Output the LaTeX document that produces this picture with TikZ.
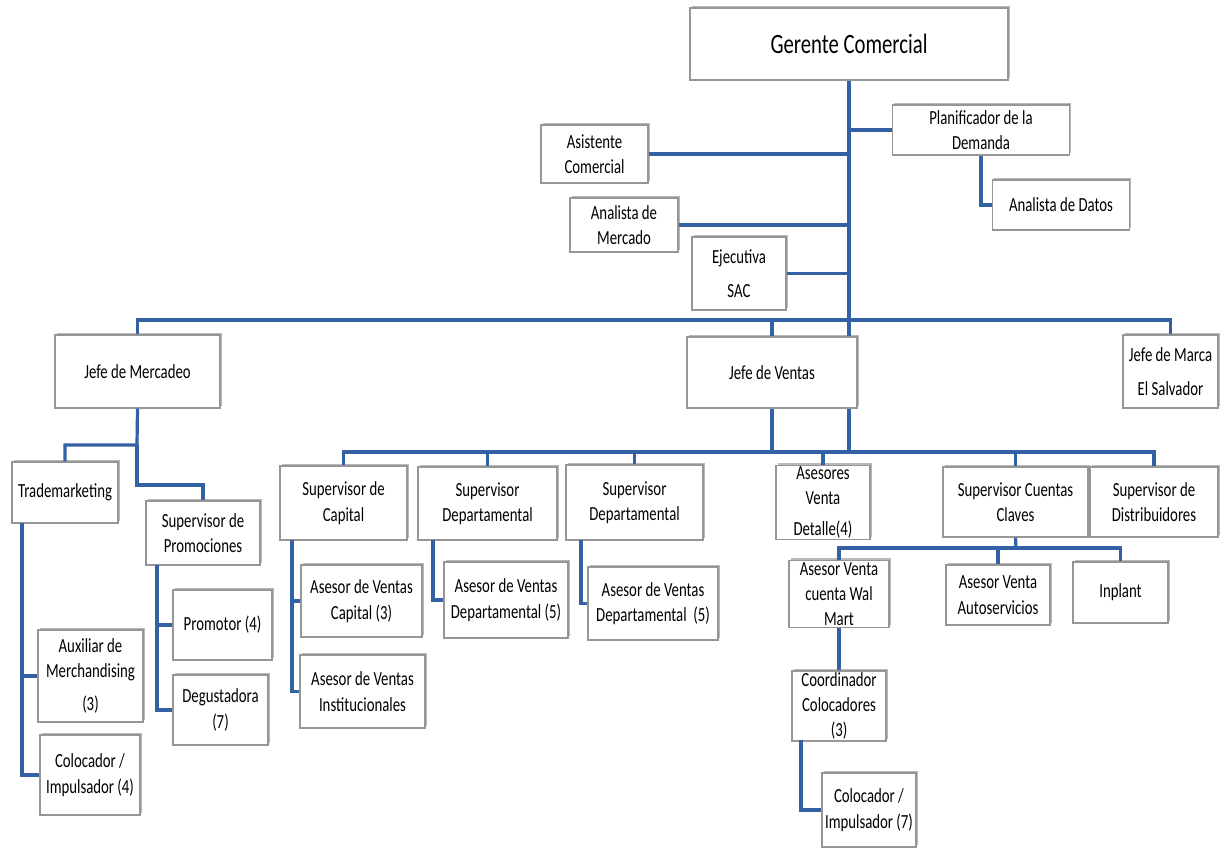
\documentclass[tikz,border=0pt]{standalone}
\usepackage{fontspec}
\setmainfont{Carlito}[FakeStretch=0.74]
\usepackage{tikz}
\usetikzlibrary{shadows}

\definecolor{linkblue}{RGB}{52,96,164}
\definecolor{boxgray}{RGB}{150,150,150}

\tikzset{
  box/.style={draw=boxgray, fill=white, line width=0.8pt, align=center, inner sep=1pt,
    font=\fontsize{15}{19}\selectfont,
    drop shadow={shadow xshift=1.2pt, shadow yshift=1.8pt, fill=black, opacity=0.28}},
  link/.style={draw=linkblue, line width=2.4pt}
}

\begin{document}
\begin{tikzpicture}[x=0.75pt,y=0.75pt,yscale=-1]
\useasboundingbox (0,0) rectangle (1224,865);

% Text Node
\node (gerente) at (849,44) [box, minimum width=318*0.75pt, minimum height=72*0.75pt, font=\fontsize{21}{25}\selectfont] {Gerente Comercial};
% Text Node
\node (planif) at (981,130) [box, minimum width=177*0.75pt, minimum height=50*0.75pt] {Planificador de la\\Demanda};
% Text Node
\node (datos) at (1061,205) [box, minimum width=137*0.75pt, minimum height=50*0.75pt] {Analista de Datos};
% Text Node
\node (asistente) at (594.5,154) [box, minimum width=107*0.75pt, minimum height=58*0.75pt] {Asistente\\Comercial};
% Text Node
\node (mercado) at (624,225) [box, minimum width=108*0.75pt, minimum height=54*0.75pt] {Analista de\\Mercado};
% Text Node
\node (sac) at (739,273.5) [box, minimum width=94*0.75pt, minimum height=73*0.75pt] {Ejecutiva\\[6pt]SAC};

% Text Node
\node (mercadeo) at (137.5,371.5) [box, minimum width=165*0.75pt, minimum height=73*0.75pt] {Jefe de Mercadeo};
% Text Node
\node (ventas) at (772,372.5) [box, minimum width=170*0.75pt, minimum height=71*0.75pt] {Jefe de Ventas};
% Text Node
\node (marca) at (1170.5,371.5) [box, minimum width=95*0.75pt, minimum height=73*0.75pt] {Jefe de Marca\\[6pt]El Salvador};

% Text Node
\node (trade) at (65,492.5) [box, minimum width=106*0.75pt, minimum height=61*0.75pt] {Trademarketing};
% Text Node
\node (suppromo) at (203,533) [box, minimum width=114*0.75pt, minimum height=64*0.75pt] {Supervisor de\\Promociones};
% Text Node
\node (auxmer) at (90.5,676) [box, minimum width=105*0.75pt, minimum height=92*0.75pt] {Auxiliar de\\Merchandising\\[6pt](3)};
% Text Node
\node (coloc4) at (90,775) [box, minimum width=100*0.75pt, minimum height=80*0.75pt] {Colocador /\\Impulsador (4)};
% Text Node
\node (promotor) at (222.5,625) [box, minimum width=99*0.75pt, minimum height=70*0.75pt] {Promotor (4)};
% Text Node
\node (degust) at (220.5,710) [box, minimum width=95*0.75pt, minimum height=70*0.75pt] {Degustadora\\(7)};

% Text Node
\node (supcap) at (343.5,503) [box, minimum width=127*0.75pt, minimum height=74*0.75pt] {Supervisor de\\Capital};
% Text Node
\node (supdepa) at (487.5,503.5) [box, minimum width=139*0.75pt, minimum height=73*0.75pt] {Supervisor\\Departamental};
% Text Node
\node (supdepb) at (634.5,502.5) [box, minimum width=137*0.75pt, minimum height=75*0.75pt] {Supervisor\\Departamental};
% Text Node
\node (detalle) at (823,502.5) [box, minimum width=94*0.75pt, minimum height=71*0.75pt] {Asesores\\Venta\\[4pt]Detalle(4)};
% Text Node
\node (cuentas) at (1015.5,502) [box, minimum width=145*0.75pt, minimum height=70*0.75pt] {Supervisor Cuentas\\Claves};
% Text Node
\node (supdist) at (1154,502) [box, minimum width=128*0.75pt, minimum height=70*0.75pt] {Supervisor de\\Distribuidores};

% Text Node
\node (ascap) at (361.5,601) [box, minimum width=121*0.75pt, minimum height=72*0.75pt] {Asesor de Ventas\\Capital (3)};
% Text Node
\node (asinst) at (362.5,691.5) [box, minimum width=125*0.75pt, minimum height=73*0.75pt] {Asesor de Ventas\\Institucionales};
% Text Node
\node (asdepa) at (506,600) [box, minimum width=124*0.75pt, minimum height=76*0.75pt] {Asesor de Ventas\\Departamental (5)};
% Text Node
\node (asdepb) at (653,603.5) [box, minimum width=130*0.75pt, minimum height=73*0.75pt] {Asesor de Ventas\\Departamental\ \ (5)};
% Text Node
\node (walmart) at (839,594) [box, minimum width=100*0.75pt, minimum height=62*0.75pt] {Asesor Venta\\cuenta Wal\\Mart};
% Text Node
\node (autos) at (998,595) [box, minimum width=104*0.75pt, minimum height=60*0.75pt] {Asesor Venta\\Autoservicios};
% Text Node
\node (inplant) at (1120.5,592.5) [box, minimum width=95*0.75pt, minimum height=61*0.75pt] {Inplant};
% Text Node
\node (coord) at (839,706) [box, minimum width=94*0.75pt, minimum height=68*0.75pt] {Coordinador\\Colocadores\\(3)};
% Text Node
\node (coloc7) at (869,810) [box, minimum width=94*0.75pt, minimum height=74*0.75pt] {Colocador /\\Impulsador (7)};

% bus points
\coordinate (mainbus) at (849,320);
\coordinate (ventbus) at (772,452);
\coordinate (mkt) at (137,445);
\coordinate (mkp) at (137,485);
\coordinate (cbus) at (1016,548);
\coordinate (tradeleg) at (22,523);
\coordinate (promoleg) at (157,565);
\coordinate (capleg) at (292,540);
\coordinate (depaleg) at (433,540);
\coordinate (depbleg) at (581,540);
\coordinate (coordleg) at (801,740);

\begin{scope}[on background layer/.style={}]
%Straight Lines
\draw [link] (gerente.south) -- (gerente.south |- ventas.north);
\draw [link] (planif.west) -- (planif.west -| gerente.south);
\draw [link] (asistente.east) -- (asistente.east -| gerente.south);
\draw [link] (mercado.east) -- (mercado.east -| gerente.south);
\draw [link] (sac.east) -- (sac.east -| gerente.south);
\draw [link] (planif.south) |- (datos.west);
%Straight Lines
\draw [link] (mercadeo.north) |- (mainbus) -| (marca.north);
\draw [link] (ventas.north) -- (ventas.north |- mainbus);
%Straight Lines
\draw [link] (mercadeo.south) -- (mkt) -| (trade.north);
\draw [link] (mkt) -- (mkp) -| (suppromo.north);
\draw [link] (tradeleg) |- (auxmer.west);
\draw [link] (tradeleg) |- (coloc4.west);
\draw [link] (promoleg) |- (promotor.west);
\draw [link] (promoleg) |- (degust.west);
%Straight Lines
\draw [link] (ventas.south) -- (ventbus);
\draw [link] (gerente.south |- ventas.south) -- (gerente.south |- ventbus);
\draw [link] (supcap.north) |- (ventbus) -| (supdist.north);
\draw [link] (supdepa.north) -- (supdepa.north |- ventbus);
\draw [link] (supdepb.north) -- (supdepb.north |- ventbus);
\draw [link] (detalle.north) -- (detalle.north |- ventbus);
\draw [link] (cuentas.north) -- (cuentas.north |- ventbus);
%Straight Lines
\draw [link] (capleg) |- (ascap.west);
\draw [link] (capleg) |- (asinst.west);
\draw [link] (depaleg) |- (asdepa.west);
\draw [link] (depbleg) |- (asdepb.west);
\draw [link] (cuentas.south) -- (cbus);
\draw [link] (walmart.north) |- (cbus) -| (inplant.north);
\draw [link] (autos.north) -- (autos.north |- cbus);
\draw [link] (walmart.south) -- (coord.north);
\draw [link] (coordleg) |- (coloc7.west);
\end{scope}

\end{tikzpicture}
\end{document}
